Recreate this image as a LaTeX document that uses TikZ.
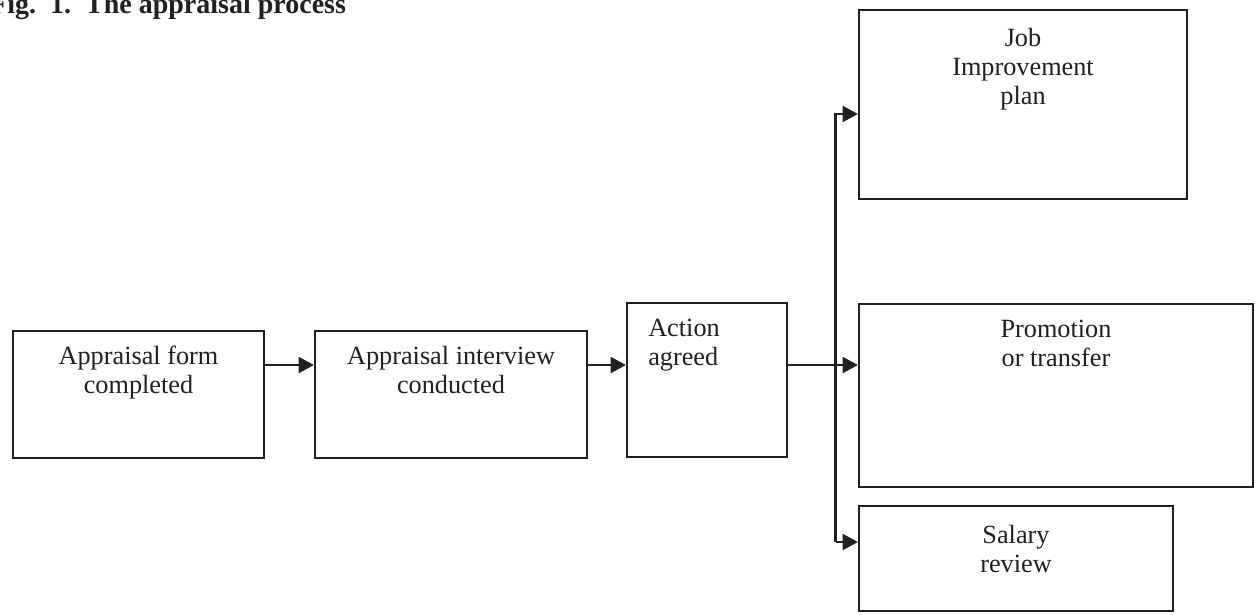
\documentclass[tikz,border=0pt]{standalone}
\usepackage{fontspec}
\setmainfont{Liberation Serif}
\usetikzlibrary{arrows.meta}
\definecolor{ink}{RGB}{35,31,32}
\begin{document}
\begin{tikzpicture}[x=0.75pt,y=-0.75pt,
  box/.style={draw=ink, line width=1.6pt, inner sep=0pt},
  txt/.style={inner sep=0pt, text=ink, font=\fontsize{19.7pt}{21.75pt}\selectfont, align=center, anchor=base},
  link/.style={line width=1.6pt, draw=ink},
  flow/.style={link, -{Triangle[length=11.5pt,width=12pt]}}]
\useasboundingbox[fill=white] (0,0) rectangle (1255,614);
% title
\node[anchor=base west, inner sep=0pt, text=ink, font=\bfseries\fontsize{21pt}{24pt}\selectfont] (title) at (-10,13) {Fig.\ \ 1.\ \ The appraisal process};
% boxes
\node[box, minimum width=188.25pt, minimum height=95.25pt] (b1) at (138.5,394.5) {};
\node[box, minimum width=204pt, minimum height=95.25pt] (b2) at (451,394.5) {};
\node[box, minimum width=120pt, minimum height=115.5pt] (b3) at (707,380) {};
\node[box, minimum width=246pt, minimum height=141.75pt] (job) at (1023,104.5) {};
\node[box, minimum width=295.5pt, minimum height=137.25pt] (promo) at (1056,395.5) {};
\node[box, minimum width=235.5pt, minimum height=78.75pt] (sal) at (1016,558.5) {};
% texts (base anchor = baseline of the last line)
\node[txt] (t1) at (138.5,393) {Appraisal form\\completed};
\node[txt] (t2) at (451,393) {Appraisal interview\\conducted};
\node[txt, anchor=base west, align=left] (t3) at (648,365) {Action\\agreed};
\node[txt] (tjob) at (1023,104) {Job\\Improvement\\plan};
\node[txt] (tpromo) at (1056,366) {Promotion\\or transfer};
\node[txt] (tsal) at (1016,572) {Salary\\review};
% connectors
\coordinate (mid) at (0,365);
\coordinate (ytop) at (0,114);
\coordinate (ybot) at (0,542);
\coordinate (jx) at (835.5,0);
\draw[flow] (b1.east |- mid) -- (b2.west |- mid);
\draw[flow] (b2.east |- mid) -- (b3.west |- mid);
\draw[flow] (b3.east |- mid) -- (promo.west |- mid);
\draw[flow] (jx |- ybot) -- (jx |- ytop) -- (job.west |- ytop);
\draw[flow] (jx |- ybot) -- (sal.west |- ybot);
\end{tikzpicture}
\end{document}
